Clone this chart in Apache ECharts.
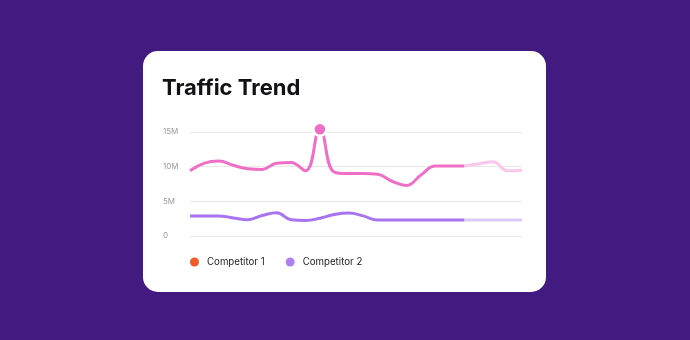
<!DOCTYPE html>
<html>
<head>
<meta charset="utf-8">
<script src="https://cdn.jsdelivr.net/npm/echarts@6/dist/echarts.min.js"></script>
<style>
  html, body { margin: 0; padding: 0; width: 690px; height: 340px; background: #431a80; overflow: hidden; }
  #card { position: absolute; left: 143px; top: 51px; width: 403px; height: 241px; background: #ffffff; border-radius: 15px; }
  #chart { position: absolute; left: 0; top: 0; width: 690px; height: 340px; }
</style>
</head>
<body>
<div id="card"></div>
<div id="chart"></div>
<script>
const title = 'Traffic Trend';
const categories = ['1','2','3','4','5','6','7','8','9','10','11','12','13','14','15','16','17','18','19','20','21','22','23','24'];
const seriesNames = ['Competitor 1', 'Competitor 2'];
const competitor1 = [9.4, 10.5, 10.8, 10.2, 9.7, 9.6, 10.5, 10.6, 9.4, 15.4, 9.2, 9.0, 9.0, 8.9, 7.9, 7.3, 8.8, 10.1, 10.1, 10.1, 10.4, 10.7, 9.4, 9.5].map(v => v * 1e6);
const competitor2 = [2.9, 2.9, 2.9, 2.6, 2.35, 2.95, 3.35, 2.35, 2.25, 2.55, 3.1, 3.3, 2.9, 2.3, 2.3, 2.3, 2.3, 2.3, 2.3, 2.3, 2.3, 2.3, 2.3, 2.3].map(v => v * 1e6);
const forecastStart = 19;
const peakIndex = 9;
const yTicks = [0, 5e6, 10e6, 15e6];

const lineColors = ['#f06fc6', '#a873ee'];
const fadedColors = ['#f9c6ec', '#ddc9f7'];
const legendColors = ['#f15a29', '#b07ff1'];

const font = 'Inter, "Noto Sans", sans-serif';

function solidPart(arr) { return arr.map((v, i) => i <= forecastStart ? v : '-'); }
function fadedPart(arr) { return arr.map((v, i) => i >= forecastStart ? v : '-'); }

const chart = echarts.init(document.getElementById('chart'), null, { renderer: 'canvas' });

const series = [];
[competitor1, competitor2].forEach((arr, i) => {
  series.push({
    name: seriesNames[i],
    type: 'line',
    data: solidPart(arr),
    smooth: 0.45,
    symbol: 'none',
    clip: false,
    lineStyle: { width: 3, color: lineColors[i] },
    itemStyle: { color: legendColors[i] },
    z: 4 - i
  });
  series.push({
    name: seriesNames[i],
    type: 'line',
    data: fadedPart(arr),
    smooth: 0.45,
    symbol: 'none',
    clip: false,
    lineStyle: { width: 3, color: fadedColors[i] },
    itemStyle: { color: legendColors[i] },
    z: 2 - i
  });
});
series.push({
  name: seriesNames[0],
  type: 'scatter',
  data: [[peakIndex, competitor1[peakIndex]]],
  symbol: 'circle',
  symbolSize: 13,
  clip: false,
  itemStyle: { color: lineColors[0], borderColor: '#ffffff', borderWidth: 2.5, opacity: 1 },
  z: 10
});

chart.setOption({
  backgroundColor: 'transparent',
  animation: false,
  title: {
    text: title,
    left: 162,
    top: 77,
    padding: 0,
    textStyle: { fontFamily: font, fontSize: 22, fontWeight: 700, color: '#111116' }
  },
  legend: {
    left: 190,
    top: 257,
    padding: 0,
    itemGap: 21,
    itemWidth: 9,
    itemHeight: 9,
    icon: 'circle',
    textStyle: { fontFamily: font, fontSize: 9.7, color: '#222', padding: [0, 0, 0, 3] },
    data: seriesNames.map((n, i) => ({ name: n, itemStyle: { color: legendColors[i] } }))
  },
  grid: { left: 190, right: 168, top: 132, bottom: 104, containLabel: false },
  xAxis: {
    type: 'category',
    data: categories,
    boundaryGap: false,
    axisLine: { show: false },
    axisTick: { show: false },
    axisLabel: { show: false },
    splitLine: { show: false }
  },
  yAxis: {
    type: 'value',
    min: yTicks[0],
    max: yTicks[yTicks.length - 1],
    interval: yTicks[1] - yTicks[0],
    axisLine: { show: false },
    axisTick: { show: false },
    axisLabel: {
      align: 'left',
      margin: 27,
      fontFamily: font,
      fontSize: 8,
      color: '#9a9a9a',
      formatter: v => v === 0 ? '0' : (v / 1e6) + 'M'
    },
    splitLine: { lineStyle: { color: '#e8e8ec', width: 1 } }
  },
  series: series
});
</script>
</body>
</html>
